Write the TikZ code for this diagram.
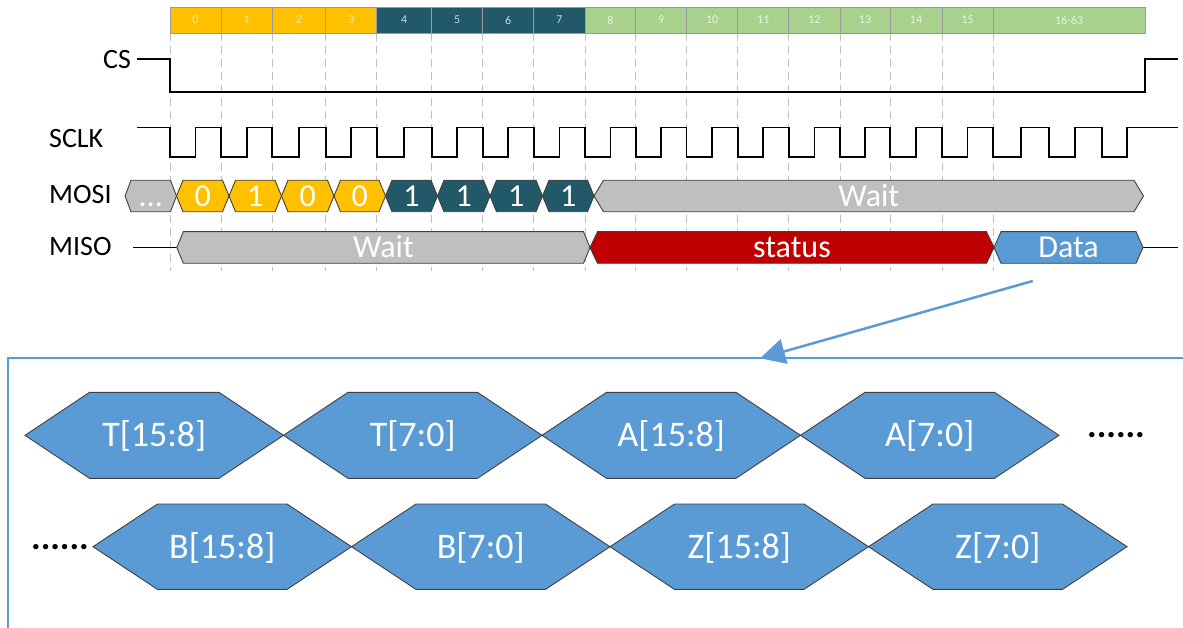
\documentclass[tikz,border=0pt]{standalone}
\usepackage{fontspec}
\setmainfont{Carlito}
\usetikzlibrary{arrows.meta}
\definecolor{yelc}{HTML}{FFC000}
\definecolor{tealc}{HTML}{215968}
\definecolor{greenc}{HTML}{A9D18E}
\definecolor{yeltxt}{HTML}{FFE9A8}
\definecolor{tealtxt}{HTML}{C5D9E0}
\definecolor{greentxt}{HTML}{E8F3E0}
\definecolor{grayc}{HTML}{BFBFBF}
\definecolor{redc}{HTML}{C00000}
\definecolor{bluec}{HTML}{5B9BD5}
\definecolor{edgec}{HTML}{404040}
\definecolor{gridc}{HTML}{C0C0C0}
\definecolor{celledge}{HTML}{9A9A9A}
\tikzset{
  hexpath/.style={draw=edgec,line width=0.9pt,line join=miter},
  hexlabel/.style={anchor=base,inner sep=0pt,text=white},
  cell/.style={draw=celledge,line width=0.8pt,minimum height=26pt,inner sep=0pt,font=\fontsize{12}{12}\selectfont},
  gridline/.style={draw=gridc,line width=0.9pt,dash pattern=on 8pt off 5pt},
  wave/.style={draw=black,line width=1.8pt,line join=miter},
  siglabel/.style={anchor=west,inner sep=0pt,font=\fontsize{28}{28}\selectfont},
  frame/.style={draw=bluec,line width=1.6pt},
  arrowline/.style={draw=bluec,line width=2.5pt,-{Triangle[length=25pt,width=25pt]}},
  dots/.style={anchor=base,inner sep=0pt,font=\bfseries\fontsize{36}{36}\selectfont}
}
\newcommand\hexsig[9]{%
  \path[hexpath,fill=#7] (#2,#4) -- ({#2+#6},{#4-#5}) -- ({#3-#6},{#4-#5}) -- (#3,#4) -- ({#3-#6},{#4+#5}) -- ({#2+#6},{#4+#5}) -- cycle;
  \node[hexlabel,font=\fontsize{#9}{#9}\selectfont] (#1) at ({(#2+#3)/2},{#4+0.322*#9}) {#8};
}
\begin{document}
\begin{tikzpicture}[x=1pt,y=-1pt]
\useasboundingbox (0,0) rectangle (1183,628);
% grid
\foreach \x in {170,221,272.3,325.7,376.7,431.7,482.7,533.7,585,635.8,686.5,737.7,788.8,840,890,942,993}
  \draw[gridline] (\x,33) -- (\x,271);
% top bar
\foreach \a/\b/\t/\c/\tc [count=\i] in {
  170/221/0/yelc/yeltxt, 221/272.3/1/yelc/yeltxt, 272.3/325.7/2/yelc/yeltxt, 325.7/376.7/3/yelc/yeltxt,
  376.7/431.7/4/tealc/tealtxt, 431.7/482.7/5/tealc/tealtxt, 482.7/533.7/6/tealc/tealtxt, 533.7/585/7/tealc/tealtxt,
  585/635.8/8/greenc/greentxt, 635.8/686.5/9/greenc/greentxt, 686.5/737.7/10/greenc/greentxt, 737.7/788.8/11/greenc/greentxt,
  788.8/840/12/greenc/greentxt, 840/890/13/greenc/greentxt, 890/942/14/greenc/greentxt, 942/993/15/greenc/greentxt,
  993/1145/16-63/greenc/greentxt}
  \node[cell,fill=\c,text=\tc,minimum width={\b-\a}] (cell\i) at ({(\a+\b)/2},20) {\t};
% labels
\node[siglabel] (lcs) at (103,60) {CS};
\node[siglabel] (lsclk) at (49,139) {SCLK};
\node[siglabel] (lmosi) at (49,195) {MOSI};
\node[siglabel] (lmiso) at (49,247) {MISO};
% CS
\draw[wave] (137,59) -- (170,59) -- (170,92) -- (1145,92) -- (1145,59) -- (1178,59);
% SCLK
\draw[wave] (137,127.5)
  \foreach \f/\r in {170/195.5,221/246.7,272.3/299,325.7/351.2,376.7/404.2,431.7/457.2,482.7/508.2,533.7/559.4,
    585/610.4,635.8/661.2,686.5/712.1,737.7/763.3,788.8/814.4,840/865,890/916,942/967.5,993/1021,1049/1075,1102/1127}
  { -- (\f,127.5) -- (\f,157) -- (\r,157) -- (\r,127.5) } -- (1178,127.5);
% MOSI
\hexsig{m0}{125}{176.5}{196}{15.75}{6}{grayc}{...}{32}
\hexsig{m1}{176.5}{229}{196}{15.75}{6.5}{yelc}{0}{32}
\hexsig{m2}{229}{281.5}{196}{15.75}{6.5}{yelc}{1}{32}
\hexsig{m3}{281.5}{334}{196}{15.75}{6.5}{yelc}{0}{32}
\hexsig{m4}{334}{385.5}{196}{15.75}{6.5}{yelc}{0}{32}
\hexsig{m5}{385.5}{437.5}{196}{15.75}{6.5}{tealc}{1}{32}
\hexsig{m6}{437.5}{490}{196}{15.75}{6.5}{tealc}{1}{32}
\hexsig{m7}{490}{542.5}{196}{15.75}{6.5}{tealc}{1}{32}
\hexsig{m8}{542.5}{594}{196}{15.75}{6.5}{tealc}{1}{32}
\hexsig{m9}{594}{1143.5}{196}{15.75}{9.5}{grayc}{Wait}{32}
% MISO
\coordinate (misoL) at (133,247.5);
\coordinate (misoWL) at (176.8,247.5);
\coordinate (misoDR) at (1143,247.5);
\coordinate (misoR) at (1178,247.5);
\draw[wave,line width=1.5pt] (misoL) -- (misoWL);
\draw[wave,line width=1.5pt] (misoDR) -- (misoR);
\hexsig{s1}{176.8}{590}{247.5}{15.8}{6.5}{grayc}{Wait}{32}
\hexsig{s2}{590}{994}{247.5}{15.8}{7.5}{redc}{status}{32}
\hexsig{s3}{994}{1143}{247.5}{15.8}{7}{bluec}{Data}{32}
% frame and arrow
\coordinate (frTR) at (1183,358);
\coordinate (frTL) at (8,358);
\coordinate (frBL) at (8,628);
\draw[frame] (frTR) -- (frTL) -- (frBL);
\coordinate (arrowstart) at (1032.7,281);
\coordinate (arrowend) at (760,358.3);
\draw[arrowline] (arrowstart) -- (arrowend);
% bottom rows
\hexsig{t1}{25}{283.5}{435.3}{43}{64.5}{bluec}{T[15:8]}{36}
\hexsig{t2}{283.5}{542}{435.3}{43}{64.5}{bluec}{T[7:0]}{36}
\hexsig{a1}{542}{800.5}{435.3}{43}{64.5}{bluec}{A[15:8]}{36}
\hexsig{a2}{800.5}{1059}{435.3}{43}{64.5}{bluec}{A[7:0]}{36}
\node[dots] (dots1) at (1116,437.5) {......};
\node[dots] (dots2) at (60,549) {......};
\hexsig{b1}{93}{351.5}{546.7}{42.7}{64.5}{bluec}{B[15:8]}{36}
\hexsig{b2}{351.5}{610}{546.7}{42.7}{64.5}{bluec}{B[7:0]}{36}
\hexsig{z1}{610}{868.5}{546.7}{42.7}{64.5}{bluec}{Z[15:8]}{36}
\hexsig{z2}{868.5}{1127}{546.7}{42.7}{64.5}{bluec}{Z[7:0]}{36}
\end{tikzpicture}
\end{document}
